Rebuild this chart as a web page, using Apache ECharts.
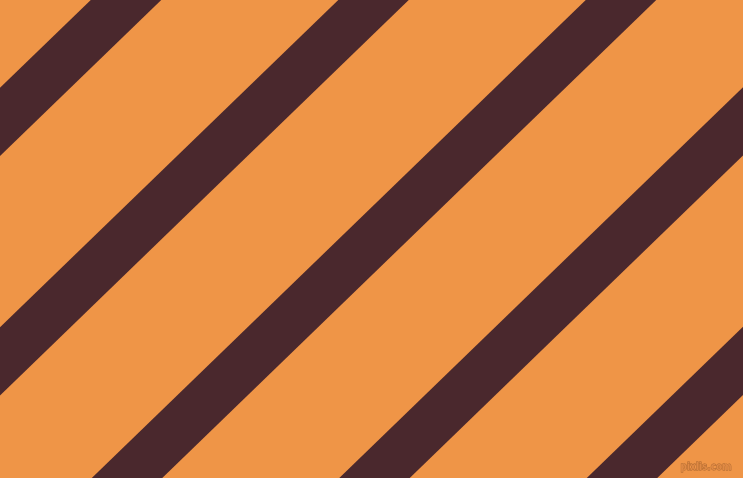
<html>
<head>
    <meta charset="utf-8" />
    <script src="https://cdn.jsdelivr.net/npm/echarts@6/dist/echarts.min.js"></script>
    <style>
        html, body { margin: 0; padding: 0; }
        #main { width: 743px; height: 478px; }
    </style>
</head>
<body>
    <div id="main"></div>
    <script type="text/javascript">
        // where each stripe centre crosses the top edge (px)
        var stripeTops = [126, 373.5, 621, 868.5, 1116];
        // horizontal drift of a stripe over the full height
        var drift = 494;
        var height = 478;

        var chart = echarts.init(document.getElementById('main'));

        var series = stripeTops.map(function (t) {
            var y0 = -60, y1 = height + 60;
            return {
                type: 'line',
                silent: true,
                symbol: 'none',
                clip: true,
                lineStyle: { color: '#4a282d', width: 49, cap: 'butt' },
                data: [
                    [t - drift / height * y0, y0],
                    [t - drift / height * y1, y1]
                ]
            };
        });

        var option = {
            animation: false,
            backgroundColor: '#ef9547',
            grid: { left: 0, right: 0, top: 0, bottom: 0 },
            xAxis: { type: 'value', min: 0, max: 743, show: false },
            yAxis: { type: 'value', min: 0, max: height, inverse: true, show: false },
            graphic: [{
                type: 'text',
                right: 11,
                bottom: 5,
                style: {
                    text: 'pixlis.com',
                    font: 'bold 10px "DejaVu Sans Condensed", sans-serif',
                    fill: '#e08a45',
                    stroke: '#a8652e',
                    lineWidth: 0.8
                }
            }],
            series: series
        };
        chart.setOption(option);
    </script>
</body>
</html>
